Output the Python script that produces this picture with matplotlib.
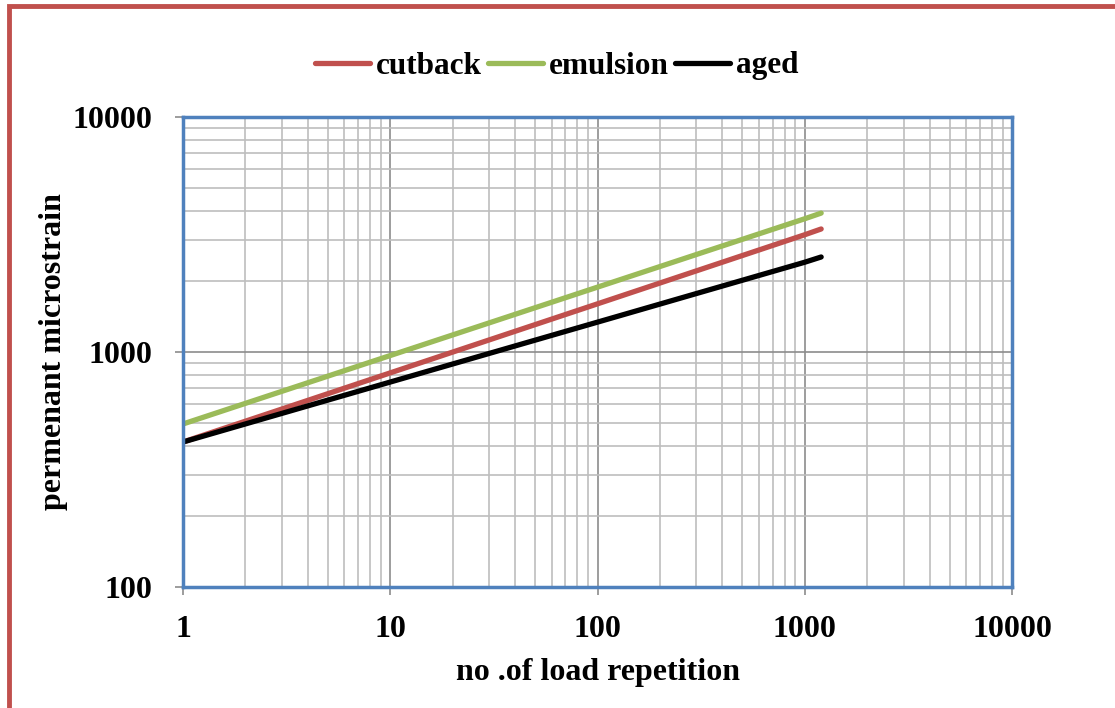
import matplotlib.pyplot as plt
from matplotlib.patches import Rectangle
from matplotlib.ticker import LogLocator, NullFormatter, FixedLocator

# load repetitions and permanent microstrain
repeticoes = [1, 10, 100, 1000, 1200]
cutback = [414, 815, 1603, 3155, 3338]
emulsion = [494, 966, 1888, 3690, 3900]
aged = [414, 745, 1340, 2410, 2537]

series = [
    ('cutback', cutback, '#C0504D'),
    ('emulsion', emulsion, '#9BBB59'),
    ('aged', aged, '#000000'),
]

plt.rcParams['font.family'] = ['Liberation Serif', 'DejaVu Serif']
plt.rcParams['font.weight'] = 'bold'

fig = plt.figure(figsize=(11.15, 7.08), dpi=100)
ax = fig.add_axes([183 / 1115, 1 - 587 / 708, (1012 - 183) / 1115, (587 - 117) / 708])

# red frame round the figure (right and bottom cut off in the original)
fig.patches.append(Rectangle((9 / 1115, -0.05), 1.2, 1 - 6 / 708 + 0.05,
                             transform=fig.transFigure, fill=False,
                             edgecolor='#C0504D', linewidth=3.5))

for nome, valores, cor in series:
    ax.plot(repeticoes, valores, color=cor, linewidth=3.8, solid_capstyle='round', label=nome)

ax.set_xscale('log')
ax.set_yscale('log')
ax.set_xlim(1, 10000)
ax.set_ylim(100, 10000)

ax.xaxis.set_major_locator(FixedLocator([1, 10, 100, 1000, 10000]))
ax.yaxis.set_major_locator(FixedLocator([100, 1000, 10000]))
ax.set_xticklabels(['1', '10', '100', '1000', '10000'])
ax.set_yticklabels(['100', '1000', '10000'])
for eixo in (ax.xaxis, ax.yaxis):
    eixo.set_minor_locator(LogLocator(base=10, subs=range(2, 10)))
    eixo.set_minor_formatter(NullFormatter())

ax.grid(which='major', color='#8C8C8C', linewidth=1.2)
ax.grid(which='minor', color='#BEBEBE', linewidth=1.2)
ax.set_axisbelow(True)

ax.tick_params(which='major', direction='out', length=6, width=1.2, color='#8C8C8C',
               labelsize=23)
ax.tick_params(axis='x', pad=14)
ax.tick_params(axis='y', pad=16)
ax.tick_params(which='minor', length=0)
for lado in ax.spines.values():
    lado.set_color('#4F81BD')
    lado.set_linewidth(2.5)

ax.set_xlabel('no .of load repetition', fontsize=23, fontweight='bold', labelpad=10)
ax.set_ylabel('permenant microstrain', fontsize=23, fontweight='bold', labelpad=3)

fig.legend(loc='center', bbox_to_anchor=(557 / 1115, 1 - 66 / 708), ncol=3, frameon=False,
           prop={'size': 22.5, 'weight': 'bold'}, handlelength=1.75, handletextpad=0.2,
           columnspacing=0.2)

fig.savefig('out.png', dpi=100)
